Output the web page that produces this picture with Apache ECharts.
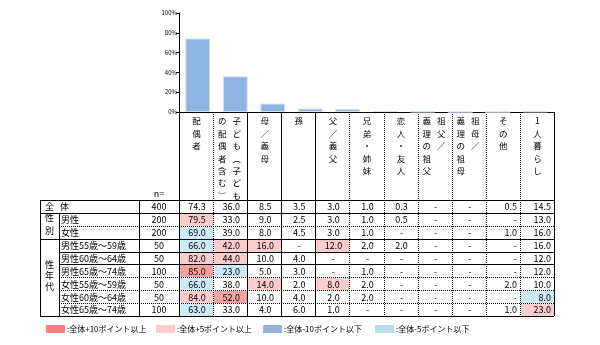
<!DOCTYPE html>
<html><head><meta charset="utf-8">
<script src="https://cdn.jsdelivr.net/npm/echarts/dist/echarts.min.js"></script>
<style>html,body{margin:0;padding:0;background:#fff}#c{width:600px;height:345px}</style>
</head><body><div id="c"></div>
<script>
// ---------- data ----------
const columnLabels = ['配偶者', '子ども（子ども\nの配偶者含む）', '母／義母', '孫', '父／義父', '兄弟・姉妹', '恋人・友人', '祖父／\n義理の祖父', '祖母／\n義理の祖母', 'その他', '1人暮らし'];
const barCategories = columnLabels.slice(0, 10);
const barValues = [74.3, 36.0, 8.5, 3.5, 3.0, 1.0, 0.3, 0, 0, 0.5];
const yTicks = [0, 20, 40, 60, 80, 100];
const rowLabels = ['全体', '男性', '女性', '男性55歳～59歳', '男性60歳～64歳', '男性65歳～74歳', '女性55歳～59歳', '女性60歳～64歳', '女性65歳～74歳'];
const rowN = [400, 200, 200, 50, 50, 100, 50, 50, 100];
const tableValues = [
  [74.3, 36.0, 8.5, 3.5, 3.0, 1.0, 0.3, null, null, 0.5, 14.5],
  [79.5, 33.0, 9.0, 2.5, 3.0, 1.0, 0.5, null, null, null, 13.0],
  [69.0, 39.0, 8.0, 4.5, 3.0, 1.0, null, null, null, 1.0, 16.0],
  [66.0, 42.0, 16.0, null, 12.0, 2.0, 2.0, null, null, null, 16.0],
  [82.0, 44.0, 10.0, 4.0, null, null, null, null, null, null, 12.0],
  [85.0, 23.0, 5.0, 3.0, null, 1.0, null, null, null, null, 12.0],
  [66.0, 38.0, 14.0, 2.0, 8.0, 2.0, null, null, null, 2.0, 10.0],
  [84.0, 52.0, 10.0, 4.0, 2.0, 2.0, null, null, null, null, 8.0],
  [63.0, 33.0, 4.0, 6.0, 1.0, null, null, null, null, 1.0, 23.0]
];
// 0 none, 1 +10pt, 2 +5pt, 3 -10pt, 4 -5pt
const highlight = [
  [0,0,0,0,0,0,0,0,0,0,0],
  [2,0,0,0,0,0,0,0,0,0,0],
  [4,0,0,0,0,0,0,0,0,0,0],
  [4,2,2,0,2,0,0,0,0,0,0],
  [2,2,0,0,0,0,0,0,0,0,0],
  [1,4,0,0,0,0,0,0,0,0,0],
  [4,0,2,0,2,0,0,0,0,0,0],
  [2,1,0,0,0,0,0,0,0,0,4],
  [4,0,0,0,0,0,0,0,0,0,2]
];
const groups = [{label: '性別', first: 1, last: 2}, {label: '性年代', first: 3, last: 8}];
const legendLabels = [':全体+10ポイント以上', ':全体+5ポイント以上', ':全体-10ポイント以下', ':全体-5ポイント以下'];

// ---------- styles / layout ----------
const FONT = '"Noto Sans CJK JP", sans-serif';
const cellColors = [null, '#F9A0A0', '#FDCCCC', '#95B3D7', '#CCEAF9'];
const legendColors = ['#FF8080', '#FFCCCC', '#95B3D7', '#B7DEE8'];
const L = {plotLeft: 179, plotWidth: 375, barTop: 13, axisY: 112, tableTop: 200, tableH: 116,
  groupW: 19, labelW: 80, nW: 40};
const colLineSolid = [true, false, true, true, true, false, false, false, false, false, false];
const rightAlignedCols = [9, 10];
// row boundaries: [style, startsAtLabelCol]
const rowLines = [['s',0],['s',0],['d',1],['s',0],['s',1],['s',1],['d',1],['d',1],['d',1],['s',0]];

const chart = echarts.init(document.getElementById('c'), null, {renderer: 'canvas'});
const px = v => Math.round(v) + 0.5;

function lineEl(x1, y1, x2, y2, dotted) {
  return {type: 'line', shape: {x1, y1, x2, y2}, silent: true,
    style: {stroke: '#000', lineWidth: 1, lineDash: dotted ? [1, 1] : null}};
}
function txt(text, x, y, align, vAlign, extra, size) {
  return {type: 'text', silent: true, style: Object.assign({text, x, y, align, verticalAlign: vAlign,
    font: (size || 9) + 'px ' + FONT, fill: '#000'}, extra || {})};
}

const cellData = [];
tableValues.forEach((row, r) => row.forEach((v, c) => cellData.push([c, r])));

function vertical(s) {
  return s.replace(/（/g, '︵').replace(/）/g, '︶').split('').join('\n');
}

const option = {
  animation: false,
  textStyle: {fontFamily: FONT},
  grid: [
    {left: L.plotLeft, top: L.barTop, width: L.plotWidth, height: L.axisY - L.barTop},
    {left: L.plotLeft, top: L.tableTop, width: L.plotWidth, height: L.tableH}
  ],
  xAxis: [
    {type: 'category', gridIndex: 0, data: barCategories,
      axisLine: {lineStyle: {color: '#000', width: 1}}, axisTick: {show: false}, axisLabel: {show: false}},
    {type: 'category', gridIndex: 1, data: columnLabels, show: false}
  ],
  yAxis: [
    {type: 'value', gridIndex: 0, min: yTicks[0], max: yTicks[yTicks.length - 1], interval: yTicks[1] - yTicks[0],
      axisLine: {show: true, lineStyle: {color: '#000'}},
      axisTick: {show: true, length: 3, lineStyle: {color: '#000'}},
      axisLabel: {formatter: '{value}%', fontSize: 6, color: '#000', margin: 2, fontFamily: FONT},
      splitLine: {show: false}},
    {type: 'category', gridIndex: 1, data: rowLabels, inverse: true, show: false}
  ],
  series: [
    {type: 'bar', xAxisIndex: 0, yAxisIndex: 0, data: barValues, barWidth: '66%',
      itemStyle: {color: '#8EB4E3', borderColor: '#D3E0F3', borderWidth: 1}},
    // cells
    {type: 'custom', xAxisIndex: 1, yAxisIndex: 1, data: cellData, clip: false,
      renderItem(params, api) {
        const c = api.value(0), r = api.value(1);
        const p = api.coord([c, r]), s = api.size([1, 1]);
        const x0 = p[0] - s[0] / 2, y0 = p[1] - s[1] / 2;
        const children = [];
        const h = highlight[r][c];
        if (h) children.push({type: 'rect', silent: true,
          shape: {x: Math.round(x0) + 1, y: Math.round(y0) + 1, width: Math.round(s[0]) - 1, height: Math.round(s[1]) - 1},
          style: {fill: cellColors[h]}});
        const v = tableValues[r][c];
        const t = v === null ? '-' : v.toFixed(1);
        if (rightAlignedCols.includes(c)) children.push(txt(t, x0 + s[0] - 3, p[1] + 0.5, 'right', 'middle'));
        else children.push(txt(t, p[0] + 1, p[1] + 0.5, 'center', 'middle'));
        return {type: 'group', children};
      }},
    // row heads
    {type: 'custom', xAxisIndex: 1, yAxisIndex: 1, data: rowLabels.map((l, r) => [0, r]), clip: false,
      renderItem(params, api) {
        const r = api.value(1);
        const cs = params.coordSys;
        const p = api.coord([0, r]);
        const nX = cs.x - L.nW / 2;
        const labelX = cs.x - L.nW - L.labelW;
        const groupX = labelX - L.groupW;
        const children = [];
        children.push(txt(String(rowN[r]), nX, p[1] + 0.5, 'center', 'middle'));
        if (r === 0) {
          const lab = rowLabels[0];
          children.push(txt(lab[0], groupX + L.groupW / 2, p[1] + 0.5, 'center', 'middle'));
          children.push(txt(lab.slice(1), labelX + 1, p[1] + 0.5, 'left', 'middle'));
        } else {
          children.push(txt(rowLabels[r], labelX + 2, p[1] + 0.5, 'left', 'middle'));
        }
        groups.forEach(g => {
          if (g.first === r) {
            const yA = api.coord([0, g.first])[1], yB = api.coord([0, g.last])[1];
            const mid = (yA + yB) / 2;
            children.push(txt(g.label.split('').join('\n'), groupX + L.groupW / 2, mid - 2, 'center', 'middle',
              {lineHeight: g.label.length > 2 ? 11 : 13}));
          }
        });
        return {type: 'group', children};
      }},
    // frame and header
    {type: 'custom', xAxisIndex: 1, yAxisIndex: 1, data: [[0, 0]], clip: false,
      renderItem(params, api) {
        const cs = params.coordSys;
        const s = api.size([1, 1]);
        const labelX = cs.x - L.nW - L.labelW;
        const groupX = labelX - L.groupW;
        const nX = cs.x - L.nW;
        const right = cs.x + cs.width;
        const top = cs.y, bottom = cs.y + cs.height;
        const children = [];
        rowLines.forEach((rl, b) => {
          const y = px(top + b * s[1]);
          children.push(lineEl(rl[1] ? labelX : groupX, y, right, y, rl[0] === 'd'));
        });
        children.push(lineEl(px(groupX), top, px(groupX), bottom, false));
        children.push(lineEl(px(labelX), top + s[1], px(labelX), bottom, false));
        children.push(lineEl(px(nX), top, px(nX), bottom, false));
        columnLabels.forEach((lab, c) => {
          const x = px(api.coord([c, 0])[0] - s[0] / 2);
          children.push(lineEl(x, L.axisY, x, bottom, !colLineSolid[c]));
          const cx = api.coord([c, 0])[0];
          const parts = lab.split('\n');
          const offs = parts.length === 1 ? [0.5] : [6.5, -8];
          parts.forEach((part, i) => {
            children.push(txt(vertical(part), cx + offs[i], L.axisY + 3, 'center', 'top', {lineHeight: 12.4}, 8.5));
          });
        });
        children.push(lineEl(px(right), L.axisY, px(right), bottom, false));
        children.push(txt('n=', nX + L.nW / 2, top - 6, 'center', 'middle'));
        return {type: 'group', children};
      }}
  ],
  graphic: legendLabels.map((t, i) => {
    const xs = [46, 156, 263, 375];
    return {type: 'group', left: xs[i], top: 325, children: [
      {type: 'rect', shape: {x: 0, y: 0, width: 19, height: 8}, style: {fill: legendColors[i]}},
      {type: 'text', x: 21, y: 4, style: {text: t, font: '8px ' + FONT, fill: '#000', verticalAlign: 'middle'}}
    ]};
  })
};
chart.setOption(option);
</script></body></html>
